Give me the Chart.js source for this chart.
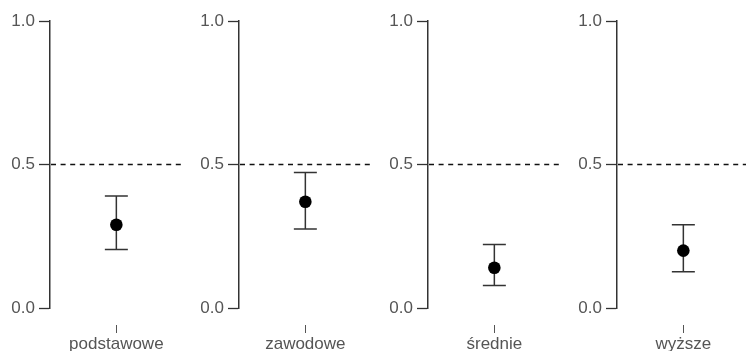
<!DOCTYPE html>
<html>
<head>
<meta charset="utf-8">
<script src="https://cdn.jsdelivr.net/npm/chart.js@4"></script>
<style>
  html, body { margin: 0; padding: 0; background: #fff; }
  #wrap { position: relative; width: 746px; height: 351px; overflow: hidden; }
  .panel { position: absolute; top: 0; width: 189px; height: 351px; }
</style>
</head>
<body>
<div id="wrap"></div>
<script>
// Education levels, one panel each
const categories = ['podstawowe', 'zawodowe', 'średnie', 'wyższe'];
// Point estimates and interval bounds per level
const estimates = [0.29, 0.37, 0.14, 0.20];
const lowerBounds = [0.204, 0.275, 0.078, 0.126];
const upperBounds = [0.39, 0.472, 0.221, 0.29];
// Y axis ticks and the dashed reference level
const yTicks = [0, 0.5, 1];
const referenceLevel = 0.5;

const FONT = "'Liberation Sans', Arial, sans-serif";
const AXIS_COLOR = '#333';
const TEXT_COLOR = '#555';

// Interval whiskers with caps plus the horizontal dashed reference line
const intervalPlugin = {
  id: 'intervals',
  beforeDatasetsDraw(chart, args, opts) {
    const { ctx, chartArea, scales } = chart;
    const x = scales.x, y = scales.y;
    ctx.save();
    // reference line
    const yr = y.getPixelForValue(opts.reference);
    ctx.strokeStyle = '#111';
    ctx.lineWidth = 1.3;
    ctx.setLineDash([5, 4.6]);
    ctx.beginPath();
    ctx.moveTo(chartArea.left + 1, yr);
    ctx.lineTo(chartArea.right, yr);
    ctx.stroke();
    ctx.setLineDash([]);
    // whiskers
    ctx.strokeStyle = AXIS_COLOR;
    ctx.lineWidth = 1.5;
    opts.lower.forEach((lo, i) => {
      const px = x.getPixelForValue(i);
      const yl = y.getPixelForValue(lo);
      const yu = y.getPixelForValue(opts.upper[i]);
      ctx.beginPath();
      ctx.moveTo(px, yl); ctx.lineTo(px, yu);
      ctx.moveTo(px - 11.5, yl); ctx.lineTo(px + 11.5, yl);
      ctx.moveTo(px - 11.5, yu); ctx.lineTo(px + 11.5, yu);
      ctx.stroke();
    });
    ctx.restore();
  }
};

const wrap = document.getElementById('wrap');

categories.forEach((cat, i) => {
  const div = document.createElement('div');
  div.className = 'panel';
  div.style.left = (i * 189) + 'px';
  const canvas = document.createElement('canvas');
  div.appendChild(canvas);
  wrap.appendChild(div);

  new Chart(canvas, {
    type: 'line',
    data: {
      labels: [cat],
      datasets: [{
        data: [estimates[i]],
        showLine: false,
        pointRadius: 6.3,
        pointHoverRadius: 6.3,
        pointBackgroundColor: '#000',
        pointBorderColor: '#000',
        pointBorderWidth: 0
      }]
    },
    options: {
      responsive: true,
      maintainAspectRatio: false,
      animation: false,
      events: [],
      layout: { padding: { top: 21, right: 3, bottom: 0, left: 0 } },
      plugins: {
        legend: { display: false },
        tooltip: { enabled: false },
        intervals: {
          lower: [lowerBounds[i]],
          upper: [upperBounds[i]],
          reference: referenceLevel
        }
      },
      scales: {
        x: {
          type: 'category',
          offset: true,
          border: { display: false },
          grid: {
            display: true,
            drawOnChartArea: false,
            drawTicks: true,
            tickLength: 25,
            tickColor: TEXT_COLOR,
            tickWidth: 1,
            tickBorderDash: [0, 17, 8, 60]
          },
          ticks: {
            color: TEXT_COLOR,
            padding: 1,
            font: { family: FONT, size: 17 },
            maxRotation: 0
          },
          afterFit(scale) { scale.height = 43; }
        },
        y: {
          type: 'linear',
          min: 0,
          max: 1,
          border: { display: true, color: AXIS_COLOR, width: 1.5 },
          grid: {
            display: true,
            drawOnChartArea: false,
            drawTicks: true,
            tickLength: 11,
            tickColor: AXIS_COLOR,
            tickWidth: 1.3
          },
          ticks: {
            color: TEXT_COLOR,
            padding: 4,
            font: { family: FONT, size: 17 },
            callback: v => Number(v).toFixed(1)
          },
          afterBuildTicks(scale) { scale.ticks = yTicks.map(v => ({ value: v })); },
          afterFit(scale) { scale.width = 50; }
        }
      }
    },
    plugins: [intervalPlugin]
  });
});
</script>
</body>
</html>
